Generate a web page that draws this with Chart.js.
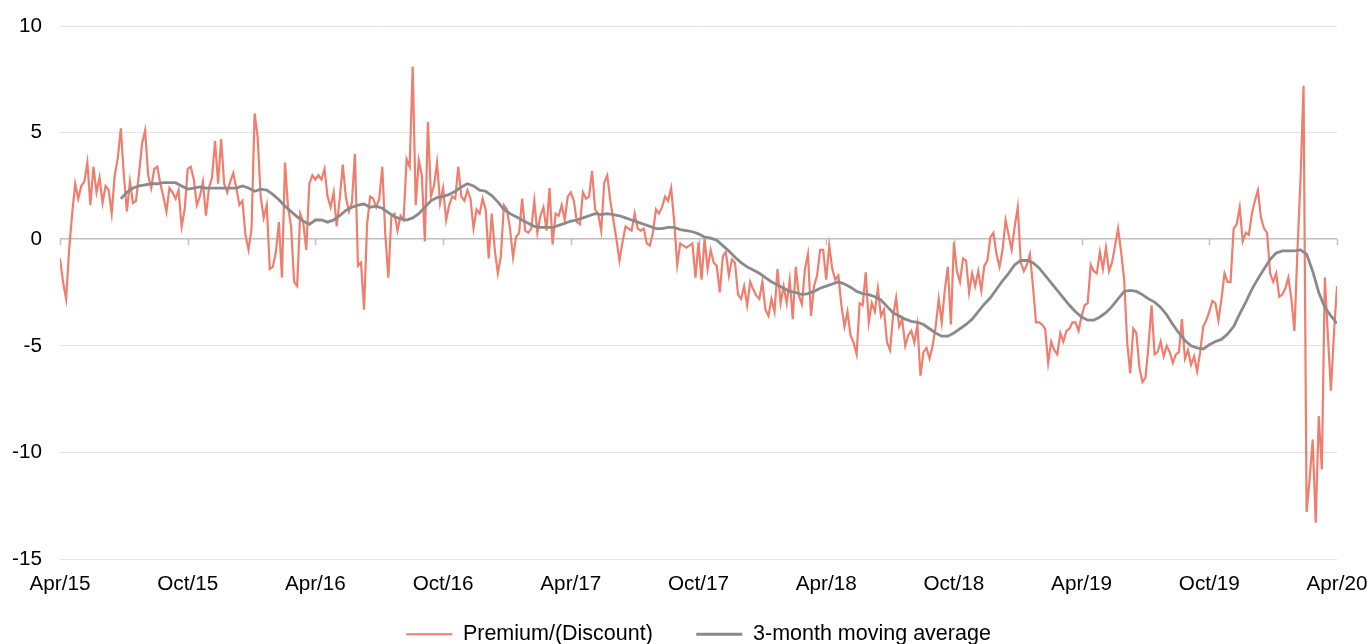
<!DOCTYPE html>
<html>
<head>
<meta charset="utf-8">
<script src="https://cdn.jsdelivr.net/npm/chart.js@4.4.1/dist/chart.umd.min.js"></script>
<style>
html,body{margin:0;padding:0;background:#fff;}
#wrap{width:1371px;height:644px;}
</style>
</head>
<body>
<div id="wrap"><canvas id="c" width="1371" height="644"></canvas></div>
<script>
// ---- Data ----
const seriesNames = ['Premium/(Discount)', '3-month moving average'];
const xTickLabels = ['Apr/15','Oct/15','Apr/16','Oct/16','Apr/17','Oct/17','Apr/18','Oct/18','Apr/19','Oct/19','Apr/20'];
const monthsPerTickLabel = 6;
const spanMonths = 60;
const yMin = -15, yMax = 10, yStep = 5;

// Premium/(Discount), %, sampled evenly from Apr/15 to Apr/20
const premium = [
 -0.9,-2.0,-2.8,-0.5,1.2,2.6,1.9,2.5,2.7,3.6,1.6,3.4,2.2,2.9,1.7,2.5,2.3,1.2,3.0,3.8,
 5.2,3.0,1.3,2.7,1.7,1.8,3.1,4.5,5.1,3.0,2.4,3.3,3.4,2.6,2.0,1.3,2.4,2.2,1.9,2.3,0.6,1.4,
 3.3,3.4,2.8,1.6,2.0,2.7,1.1,2.4,2.9,4.6,2.6,4.7,2.6,2.2,2.7,3.1,2.4,1.6,1.8,0.2,-0.5,0.5,
 5.9,4.8,2.0,1.0,1.6,-1.4,-1.3,-0.6,0.8,-1.8,3.6,1.5,0.6,-2.0,-2.2,1.2,0.8,-0.5,2.6,3.0,
 2.8,3.0,2.8,3.3,2.0,1.5,2.2,0.6,1.9,3.5,2.0,1.3,1.7,4.0,-1.25,-1.1,-3.3,0.7,2.0,1.9,
 1.5,1.9,3.4,0.2,-1.8,1.1,1.2,0.4,1.1,0.9,3.75,3.4,8.1,1.6,3.7,3.0,-0.1,5.5,2.0,2.5,3.6,1.7,
 2.4,0.9,1.6,2.0,1.9,3.4,2.0,1.8,2.3,1.9,0.5,1.4,1.2,1.9,
 1.4,-0.9,1.2,-0.5,-1.6,-0.8,1.6,1.4,0.5,-0.85,0.1,0.3,1.9,0.4,0.3,0.5,1.8,0.3,1.1,1.5,0.4,2.4,-0.25,1.2,1.1,1.6,0.9,2.0,
 2.2,1.8,0.8,0.7,2.2,1.9,2.0,3.2,1.4,1.2,0.4,2.65,3.0,1.8,0.9,0.0,-1.0,-0.15,0.6,0.5,
 0.4,1.2,0.5,0.4,0.5,-0.2,-0.3,0.3,1.4,1.2,1.5,2.0,1.8,2.4,0.85,-1.2,-0.2,-0.3,-0.4,-0.3,-0.2,-1.8,
 -0.15,-1.9,0.0,-1.4,-0.5,-1.1,-1.25,-2.5,-0.8,-0.6,-1.7,-0.95,-1.1,-2.6,-2.8,-2.2,-3.1,-2.0,-2.35,-2.65,
 -2.8,-2.0,-3.3,-3.6,-2.8,-3.4,-1.4,-3.0,-2.2,-3.0,-1.9,-3.75,-1.3,-2.65,-3.05,-1.4,-0.7,-3.6,-2.2,-1.7,-0.5,-0.5,
 -1.9,-0.3,-1.4,-1.9,-1.7,-3.1,-4.1,-3.4,-4.5,-4.85,-5.4,-3.0,-3.1,-1.55,-3.9,-3.0,-3.4,-2.3,-3.6,-3.3,
 -4.85,-5.2,-3.6,-2.75,-4.1,-3.75,-5.0,-4.5,-4.3,-4.85,-4.0,-6.4,-5.3,-5.1,-5.6,-5.0,-4.1,-2.8,-3.9,-2.4,-1.3,-4.0,
 -0.15,-1.5,-2.0,-0.9,-1.0,-2.5,-1.6,-2.2,-1.5,-2.4,-1.25,-1.0,0.1,0.3,-0.7,-1.3,-0.5,0.9,0.2,-0.5,
 0.6,1.5,-1.1,-1.5,-1.2,-0.7,-2.2,-3.9,-3.9,-4.0,-4.2,-5.8,-4.8,-5.2,-5.4,-4.4,-4.8,-4.3,-4.2,-3.9,-3.9,-4.3,
 -3.6,-3.1,-3.0,-1.2,-1.5,-1.6,-0.6,-1.4,-0.4,-1.5,-1.1,-0.3,
 0.5,-0.6,-1.9,-4.85,-6.3,-4.2,-4.4,-6.0,-6.7,-6.5,-5.0,-3.1,-5.4,-5.3,-4.8,-5.5,-5.0,-5.3,-5.8,-5.4,
 -5.3,-3.75,-5.6,-5.2,-5.9,-5.5,-6.2,-5.3,-4.1,-3.8,
 -3.4,-2.9,-3.0,-3.8,-2.8,-1.6,-2.0,-2.0,0.5,0.7,1.5,-0.1,0.3,0.2,1.2,1.8,2.3,1.0,0.5,0.3,
 -1.6,-2.0,-1.6,-2.7,-2.6,-2.3,-1.8,-2.8,-4.3,-0.5,2.8,7.2,-12.8,-11.25,-9.4,-13.3,-8.3,-10.8,-1.8,-4.5,
 -7.1,-4.4,-2.2
];

// 3-month moving average, sampled evenly from Apr/15 to Apr/20 (no value for the first months)
const movingAverage = [
 null,null,null,null,null,null,null,null,null,null,
 1.9,2.2,2.4,2.5,2.55,2.6,2.6,2.65,2.65,2.65,
 2.5,2.35,2.4,2.45,2.4,2.4,2.4,2.4,2.4,2.4,
 2.5,2.4,2.25,2.35,2.3,2.1,1.85,1.55,1.3,1.05,
 0.85,0.7,0.9,0.9,0.8,0.9,1.1,1.35,1.5,1.6,
 1.65,1.5,1.55,1.45,1.25,1.05,0.95,0.9,1.0,1.2,
 1.5,1.8,1.95,2.0,2.1,2.25,2.45,2.6,2.5,2.3,
 2.25,2.05,1.75,1.4,1.2,1.05,0.9,0.75,0.6,0.55,
 0.55,0.55,0.65,0.75,0.85,0.9,1.0,1.1,1.2,1.15,
 1.2,1.15,1.1,1.0,0.9,0.8,0.7,0.6,0.5,0.5,
 0.55,0.55,0.45,0.4,0.35,0.25,0.1,0.05,-0.05,-0.3,
 -0.55,-0.85,-1.1,-1.3,-1.45,-1.6,-1.8,-2.0,-2.15,-2.3,
 -2.45,-2.5,-2.6,-2.55,-2.45,-2.3,-2.2,-2.1,-2.0,-2.1,
 -2.25,-2.45,-2.55,-2.6,-2.7,-2.85,-3.15,-3.45,-3.6,-3.75,
 -3.85,-3.9,-4.0,-4.2,-4.4,-4.55,-4.55,-4.4,-4.2,-4.0,
 -3.75,-3.4,-3.05,-2.75,-2.35,-1.95,-1.6,-1.2,-1.0,-1.0,
 -1.1,-1.35,-1.7,-2.05,-2.4,-2.75,-3.1,-3.4,-3.65,-3.8,
 -3.8,-3.65,-3.45,-3.15,-2.8,-2.45,-2.4,-2.45,-2.6,-2.8,
 -2.95,-3.2,-3.55,-4.0,-4.4,-4.75,-5.0,-5.1,-5.15,-4.95,
 -4.8,-4.7,-4.45,-4.1,-3.5,-2.95,-2.35,-1.85,-1.4,-0.95,
 -0.65,-0.55,-0.55,-0.55,-0.5,-0.7,-1.5,-2.5,-3.2,-3.6,
 -3.95
];

// ---- Build ----
function toPoints(arr) {
  const step = spanMonths / (arr.length - 1);
  return arr.map((v, i) => ({ x: i * step, y: v }));
}

const RED = '#F07E6E';
const GREY = '#8A8A8A';
const FONT = "'Liberation Sans', Arial, Helvetica, sans-serif";

const zeroLineTicks = {
  id: 'zeroLineTicks',
  beforeDatasetsDraw(chart) {
    const xs = chart.scales.x, ys = chart.scales.y;
    const y0 = ys.getPixelForValue(0);
    const ctx = chart.ctx;
    ctx.save();
    ctx.strokeStyle = '#BFBFBF';
    ctx.lineWidth = 1.5;
    xs.ticks.forEach(t => {
      const px = Math.round(xs.getPixelForValue(t.value)) + 0.5;
      ctx.beginPath();
      ctx.moveTo(px, y0);
      ctx.lineTo(px, y0 + 6);
      ctx.stroke();
    });
    ctx.restore();
  }
};

new Chart(document.getElementById('c'), {
  type: 'line',
  data: {
    datasets: [
      {
        label: seriesNames[0],
        data: toPoints(premium),
        borderColor: RED,
        backgroundColor: RED,
        borderWidth: 2.2,
        pointRadius: 0,
        tension: 0,
        order: 2
      },
      {
        label: seriesNames[1],
        data: toPoints(movingAverage),
        borderColor: GREY,
        backgroundColor: GREY,
        borderWidth: 2.8,
        pointRadius: 0,
        tension: 0,
        spanGaps: false,
        order: 1
      }
    ]
  },
  options: {
    responsive: false,
    animation: false,
    layout: { padding: 0 },
    plugins: {
      legend: {
        position: 'bottom',
        fullSize: false,
        maxHeight: 46,
        labels: {
          font: { family: FONT, size: 21.5 },
          color: '#000',
          usePointStyle: true,
          pointStyle: 'line',
          pointStyleWidth: 46,
          boxHeight: 21.5,
          padding: 25.5,
          sort: (a, b) => a.datasetIndex - b.datasetIndex,
          generateLabels: (chart) => {
            const items = Chart.defaults.plugins.legend.labels.generateLabels(chart);
            items.sort((a, b) => a.datasetIndex - b.datasetIndex);
            // widen the gap after the first entry
            if (items.length) items[0].text = items[0].text + '\u00A0\u00A0\u00A0';
            return items;
          }
        }
      },
      tooltip: { enabled: false }
    },
    scales: {
      x: {
        type: 'linear',
        min: 0,
        max: spanMonths,
        grid: { display: false, drawTicks: false },
        border: { display: false },
        ticks: {
          stepSize: monthsPerTickLabel,
          autoSkip: false,
          maxRotation: 0,
          padding: 13,
          color: '#000',
          font: { family: FONT, size: 20.7 },
          callback: (v) => xTickLabels[Math.round(v / monthsPerTickLabel)]
        },
        afterFit: (s) => { s.height = 39; s.paddingRight = 34; s.paddingLeft = 0; }
      },
      y: {
        min: yMin,
        max: yMax,
        grid: {
          drawTicks: false,
          color: (ctx) => (ctx.tick && ctx.tick.value === 0) ? '#BFBFBF' : '#E3E3E3',
          lineWidth: (ctx) => (ctx.tick && ctx.tick.value === 0) ? 1.5 : 1
        },
        border: { display: false },
        ticks: {
          stepSize: yStep,
          padding: 18,
          color: '#000',
          font: { family: FONT, size: 20.7 }
        },
        afterFit: (s) => { s.width = 60; s.paddingTop = 26; s.paddingBottom = 0; }
      }
    }
  },
  plugins: [zeroLineTicks]
});
</script>
</body>
</html>
